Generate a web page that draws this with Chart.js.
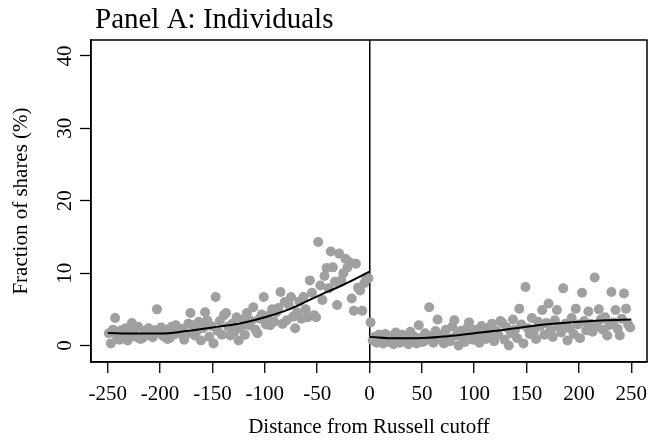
<!DOCTYPE html>
<html><head><meta charset="utf-8">
<script src="https://cdn.jsdelivr.net/npm/chart.js@4"></script>
<style>html,body{margin:0;padding:0;background:#fff}#wrap{width:652px;height:441px;position:relative}</style>
</head><body><div id="wrap"><canvas id="c"></canvas></div>
<script>
const titleText = "Panel A: Individuals";
const xTitle = "Distance from Russell cutoff";
const yTitle = "Fraction of shares (%)";
const xTicks = [-250,-200,-150,-100,-50,0,50,100,150,200,250];
const yTicks = [0,10,20,30,40];

const leftX = [-249,-247,-245,-243,-241,-239,-237,-235,-233,-231,-229,-227,-225,-223,-221,-219,-217,-215,-213,-211,-209,-207,-205,-203,-201,-199,-197,-195,-193,-191,-189,-187,-185,-183,-181,-179,-177,-175,-173,-171,-169,-167,-165,-163,-161,-159,-157,-155,-153,-151,-149,-147,-145,-143,-141,-139,-137,-135,-133,-131,-129,-127,-125,-123,-121,-119,-117,-115,-113,-111,-109,-107,-105,-103,-101,-99,-97,-95,-93,-91,-89,-87,-85,-83,-81,-79,-77,-75,-73,-71,-69,-67,-65,-63,-61,-59,-57,-55,-53,-51,-49,-47,-45,-43,-41,-39,-37,-35,-33,-31,-29,-27,-25,-23,-21,-19,-17,-15,-13,-11,-9,-7,-5,-3,-1];
const leftY = [1.7,0.3,2.2,3.8,1.2,0.8,2.1,1.5,2.4,0.7,
1.9,3.1,1.7,1.2,2.6,0.9,1.0,2.0,1.4,2.4,
1.6,1.15,2.1,5.0,1.8,2.5,1.3,2.2,0.9,1.0,
2.6,1.5,2.8,1.9,1.7,2.3,0.8,1.6,3.0,4.5,
2.8,1.4,2.0,3.3,0.7,2.4,4.6,3.5,1.2,2.7,
0.3,6.7,2.0,3.4,1.5,4.2,4.5,2.6,1.4,3.0,
1.9,3.9,0.7,2.4,3.6,1.5,4.5,2.8,3.4,5.3,
2.2,1.7,3.7,4.3,6.7,2.9,4.1,2.8,5.0,3.3,
4.6,5.2,7.4,3.0,6.0,3.5,5.6,6.7,4.0,2.4,
4.6,6.1,3.7,6.7,5.0,3.9,9.0,7.3,4.2,3.9,
14.3,8.3,6.3,9.6,10.7,7.9,13.0,10.8,8.8,5.6,
12.7,9.0,10.0,12.0,10.8,11.5,6.5,4.8,11.3,8.0,
7.6,4.8,8.6,9.2,9.3];

const rightX = [1,3,5,7,9,11,13,15,17,19,21,23,25,27,29,31,33,35,37,39,41,43,45,47,49,51,53,55,57,59,61,63,65,67,69,71,73,75,77,79,81,83,85,87,89,91,93,95,97,99,101,103,105,107,109,111,113,115,117,119,121,123,125,127,129,131,133,135,137,139,141,143,145,147,149,151,153,155,157,159,161,163,165,167,169,171,173,175,177,179,181,183,185,187,189,191,193,195,197,199,201,203,205,207,209,211,213,215,217,219,221,223,225,227,229,231,233,235,237,239,241,243,245,247,249];
const rightY = [3.2,0.7,1.2,0.4,1.5,0.8,0.3,1.6,1.0,0.5,
1.3,0.2,1.8,0.9,0.4,1.5,0.7,1.1,0.2,1.9,
0.6,1.2,0.3,2.8,1.0,0.5,1.7,0.8,5.3,1.3,
0.4,2.0,3.6,0.9,1.5,0.3,2.2,1.1,0.6,2.6,
3.5,1.4,0.0,2.0,1.1,0.5,2.4,3.2,1.6,0.8,
2.2,1.3,0.4,2.7,1.8,0.9,2.4,1.2,3.0,0.6,
2.0,1.5,3.4,3.1,0.8,2.5,0.0,1.7,3.6,2.2,
1.0,5.1,2.9,0.3,8.1,2.4,1.6,3.8,2.0,0.9,
3.3,2.7,4.9,1.5,3.1,5.8,2.2,1.2,3.5,4.9,
2.6,1.8,7.9,3.0,0.7,2.4,3.8,1.6,5.1,2.9,
1.0,7.3,3.4,2.1,4.7,3.0,1.9,9.4,2.6,5.0,
3.6,2.2,3.9,1.4,2.8,7.4,3.2,4.9,2.3,1.4,
3.7,7.2,5.1,2.9,2.5];

const fitLeftX = [-250,-225,-200,-175,-150,-125,-100,-75,-50,-25,0];
const fitLeftY = [1.75,1.65,1.65,2.0,2.5,3.0,3.9,5.1,6.8,8.4,10.2];
const fitRightX = [0,25,50,75,100,125,150,175,200,225,250];
const fitRightY = [1.2,1.0,1.05,1.3,1.7,2.1,2.6,3.0,3.3,3.5,3.6];

const FONT = "'Liberation Serif','Times New Roman',serif";
const pts = (xs, ys) => xs.map((x, i) => ({x: x, y: ys[i]}));

const framePlugin = {
  id: 'frame',
  afterDraw(chart) {
    const {ctx, chartArea: a} = chart;
    ctx.save();
    ctx.strokeStyle = '#000';
    ctx.lineWidth = 1.5;
    ctx.strokeRect(a.left, a.top, a.right - a.left, a.bottom - a.top);
    ctx.font = '29px ' + FONT;
    ctx.fillStyle = '#000';
    ctx.textBaseline = 'alphabetic';
    ctx.textAlign = 'left';
    ctx.fillText(titleText, a.left + 4, 28);
    ctx.restore();
  }
};

new Chart(document.getElementById('c'), {
  type: 'scatter',
  data: {
    datasets: [
      {type: 'line', data: pts(fitLeftX, fitLeftY), borderColor: '#000', borderWidth: 2, pointRadius: 0, cubicInterpolationMode: 'monotone', fill: false},
      {type: 'line', data: pts(fitRightX, fitRightY), borderColor: '#000', borderWidth: 2, pointRadius: 0, cubicInterpolationMode: 'monotone', fill: false},
      {data: pts(leftX, leftY), backgroundColor: '#a0a0a0', borderWidth: 0, pointRadius: 5},
      {data: pts(rightX, rightY), backgroundColor: '#a0a0a0', borderWidth: 0, pointRadius: 5}
    ]
  },
  options: {
    responsive: true, maintainAspectRatio: false, animation: false, devicePixelRatio: 1,
    layout: {padding: {top: 40, right: 4, left: 0, bottom: 0}},
    plugins: {legend: {display: false}, tooltip: {enabled: false}},
    scales: {
      x: {
        type: 'linear', min: -266, max: 265,
        afterBuildTicks: s => { s.ticks = xTicks.map(v => ({value: v})); },
        afterFit: s => { s.height = 79; },
        ticks: {font: {family: FONT, size: 21, lineHeight: 1.62}, color: '#000', padding: 4, maxRotation: 0, autoSkip: false, callback: v => String(v)},
        grid: {color: c => (c.tick && c.tick.value === 0) ? '#000' : 'rgba(0,0,0,0)', lineWidth: 1.5, tickColor: '#000', tickLength: 11, tickWidth: 1.3},
        border: {display: true, color: '#000', width: 1.5},
        title: {display: true, text: xTitle, color: '#000', font: {family: FONT, size: 21}, padding: {top: 0, bottom: 0.5}}
      },
      y: {
        type: 'linear', min: -2.27, max: 42.2,
        afterBuildTicks: s => { s.ticks = yTicks.map(v => ({value: v})); },
        afterFit: s => { s.width = 91; },
        ticks: {font: {family: FONT, size: 21}, color: '#000', padding: 4.5, minRotation: 90, maxRotation: 90, crossAlign: 'center', autoSkip: false, callback: v => String(v)},
        grid: {drawOnChartArea: false, tickColor: '#000', tickLength: 11, tickWidth: 1.3},
        border: {display: true, color: '#000', width: 1.5},
        title: {display: true, text: yTitle, color: '#000', font: {family: FONT, size: 21}, padding: {top: 9, bottom: 0}}
      }
    }
  },
  plugins: [framePlugin]
});
</script></body></html>
